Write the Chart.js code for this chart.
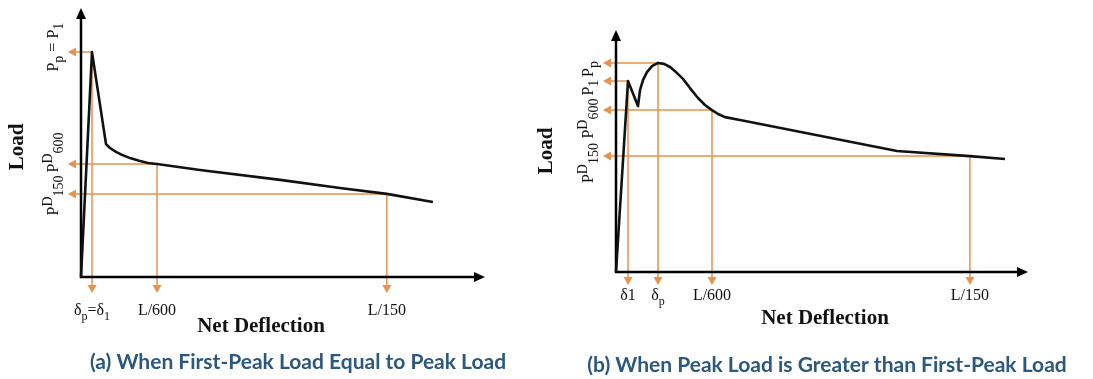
<!DOCTYPE html>
<html>
<head>
<meta charset="utf-8">
<script src="https://cdn.jsdelivr.net/npm/chart.js@4.4.1/dist/chart.umd.min.js"></script>
<style>
  html, body { margin: 0; padding: 0; background: #fff; }
  body { width: 1093px; height: 379px; position: relative; overflow: hidden; }
  .panel { position: absolute; top: 0; height: 379px; }
  #panelA { left: 0; width: 530px; }
  #panelB { left: 530px; width: 563px; }
</style>
</head>
<body>
<div class="panel" id="panelA"><canvas id="chartA"></canvas></div>
<div class="panel" id="panelB"><canvas id="chartB"></canvas></div>
<script>
// (a) first-peak load equal to peak load
const deflA = [0, 2.72, 6.19, 7.18, 8.66, 10.15, 12.13, 14.6, 16.6, 18.81, 29.46, 49.3, 64.1, 75.7, 87.1];
const loadA = [0, 83.6, 49.4, 47.96, 46.5, 45.4, 44.2, 43.1, 42.4, 42.0, 39.8, 36.1, 33.1, 30.9, 27.9];
const markDeflA = [2.72, 18.81, 75.7];
const markLoadA = [83.6, 42.0, 30.9];
const xLabelsA = ['δ_{p}=δ_{1}', 'L/600', 'L/150'];
const yLabelsA = ['P_{p} = P_{1}', 'P^{D}_{600}', 'P^{D}_{150}'];
const captionA = '(a) When First-Peak Load Equal to Peak Load';

// (b) peak load greater than first-peak load
const deflB = [0, 2.91, 5.34, 5.83, 6.55, 7.52, 8.74, 10.19, 11.65, 13.11, 14.56, 16.26, 17.96, 19.9, 21.6, 23.3, 24.76, 26.46, 30.1, 68.2, 85.9, 94.4];
const loadB = [0, 78.9, 68.6, 75.2, 79.3, 82.6, 85.1, 86.4, 86.0, 84.7, 82.6, 79.8, 76.0, 71.9, 69.0, 66.9, 65.3, 64.0, 62.8, 50.0, 47.9, 46.7];
const markDeflB = [2.91, 10.19, 23.3, 85.9];
const markLoadB = [78.9, 86.4, 66.9, 47.9];
const xLabelsB = ['δ1', 'δ_{p}', 'L/600', 'L/150'];
const yLabelsB = ['P_{1}', 'P_{p}', 'P^{D}_{600}', 'P^{D}_{150}'];
const captionB = '(b) When Peak Load is Greater than First-Peak Load';

const axisTitleX = 'Net Deflection';
const axisTitleY = 'Load';

const ORANGE = '#E8924E';
const SERIF = '"Liberation Serif", "Times New Roman", serif';

// split "P^{D}_{600}" into normal / superscript / subscript runs
function parseRich(str) {
  const parts = [];
  const re = /([_^])\{([^}]*)\}|([^_^]+)/g;
  let m;
  while ((m = re.exec(str))) {
    if (m[3]) parts.push({ t: m[3], shift: 0 });
    else parts.push({ t: m[2], shift: m[1] === '_' ? 1 : -1 });
  }
  return parts;
}

function richFonts(parts, size, small) {
  return parts.map(p => (p.shift ? Math.round(size * small) : size) + 'px ' + SERIF);
}

function measureRich(ctx, str, size, small) {
  const parts = parseRich(str);
  const fonts = richFonts(parts, size, small);
  return parts.reduce((sum, p, i) => {
    ctx.font = fonts[i];
    return sum + ctx.measureText(p.t).width;
  }, 0);
}

function drawRich(ctx, str, cx, cy, size, small) {
  const parts = parseRich(str);
  const fonts = richFonts(parts, size, small);
  let x = cx - measureRich(ctx, str, size, small) / 2;
  const base = cy + size * 0.33;
  ctx.textAlign = 'left';
  ctx.textBaseline = 'alphabetic';
  parts.forEach((p, i) => {
    ctx.font = fonts[i];
    const dy = p.shift > 0 ? size * 0.32 : p.shift < 0 ? -size * 0.42 : 0;
    ctx.fillText(p.t, x, base + dy);
    x += ctx.measureText(p.t).width;
  });
}

// push rotated labels apart along the y axis so they don't overlap
function spreadLabels(items, gap) {
  items.sort((p, q) => p.c - q.c);
  for (let pass = 0; pass < 20; pass++) {
    let moved = false;
    for (let i = 1; i < items.length; i++) {
      const a = items[i - 1], b = items[i];
      const need = a.len / 2 + b.len / 2 + gap - (b.c - a.c);
      if (need > 0.5) {
        a.c -= need / 2;
        b.c += need / 2;
        moved = true;
      }
    }
    if (!moved) break;
  }
  return items;
}

function arrowHead(ctx, x, y, dir, len, half) {
  ctx.beginPath();
  if (dir === 'left') {
    ctx.moveTo(x, y); ctx.lineTo(x + len, y - half); ctx.lineTo(x + len, y + half);
  } else if (dir === 'down') {
    ctx.moveTo(x, y); ctx.lineTo(x - half, y - len); ctx.lineTo(x + half, y - len);
  } else if (dir === 'up') {
    ctx.moveTo(x, y); ctx.lineTo(x - half, y + len); ctx.lineTo(x + half, y + len);
  } else {
    ctx.moveTo(x, y); ctx.lineTo(x - len, y - half); ctx.lineTo(x - len, y + half);
  }
  ctx.closePath();
  ctx.fill();
}

function diagramPlugin(cfg) {
  return {
    id: 'diagram',
    beforeDatasetsDraw(chart) {
      const { ctx, chartArea: a, scales: { x, y } } = chart;
      ctx.save();
      // orange guide lines from each marked point to both axes
      ctx.strokeStyle = ORANGE;
      ctx.fillStyle = ORANGE;
      ctx.lineWidth = 1.5;
      cfg.markX.forEach((mx, i) => {
        const px = x.getPixelForValue(mx);
        const py = y.getPixelForValue(cfg.markY[i]);
        ctx.beginPath();
        ctx.moveTo(px, py);
        ctx.lineTo(a.left - 6, py);
        ctx.moveTo(px, py);
        ctx.lineTo(px, a.bottom + cfg.dropLen - 6);
        ctx.stroke();
        arrowHead(ctx, a.left - 13, py, 'left', 8, 4.5);
        arrowHead(ctx, px, a.bottom + cfg.dropLen, 'down', 8, 4.5);
      });
      // axes with arrow heads
      ctx.strokeStyle = '#000';
      ctx.fillStyle = '#000';
      ctx.lineWidth = 2.5;
      ctx.beginPath();
      ctx.moveTo(a.left, a.top + 8);
      ctx.lineTo(a.left, a.bottom);
      ctx.lineTo(a.right - 8, a.bottom);
      ctx.stroke();
      arrowHead(ctx, a.left, a.top, 'up', 11, 5);
      arrowHead(ctx, a.right, a.bottom, 'right', 11, 5);
      ctx.restore();
    },
    afterDraw(chart) {
      const { ctx, chartArea: a, scales: { x, y } } = chart;
      ctx.save();
      ctx.fillStyle = '#111';
      cfg.xLabels.forEach((t, i) => {
        drawRich(ctx, t, x.getPixelForValue(cfg.markX[i]), a.bottom + cfg.xLabelGap, 16, 0.72);
      });
      const items = cfg.yLabels.map((t, i) => ({
        t,
        c: y.getPixelForValue(cfg.markY[i]) + cfg.yLabelShift,
        len: measureRich(ctx, t, 16, 0.85)
      }));
      spreadLabels(items, 3).forEach(it => {
        ctx.save();
        ctx.translate(a.left - 28, it.c);
        ctx.rotate(-Math.PI / 2);
        drawRich(ctx, it.t, 0, 0, 16, 0.85);
        ctx.restore();
      });
      ctx.font = 'bold 21px ' + SERIF;
      ctx.textAlign = 'center';
      ctx.textBaseline = 'middle';
      ctx.fillText(axisTitleX, cfg.xTitle[0], cfg.xTitle[1]);
      ctx.save();
      ctx.translate(cfg.yTitle[0], cfg.yTitle[1]);
      ctx.rotate(-Math.PI / 2);
      ctx.fillText(axisTitleY, 0, 0);
      ctx.restore();
      ctx.fillStyle = '#2B587E';
      ctx.font = 'bold 21px Lato, "Noto Sans", sans-serif';
      ctx.fillText(cfg.caption, cfg.captionPos[0], cfg.captionPos[1], cfg.captionWidth);
      ctx.restore();
    }
  };
}

function makeChart(id, defl, load, padding, cfg) {
  return new Chart(document.getElementById(id), {
    type: 'scatter',
    data: {
      datasets: [{
        data: defl.map((d, i) => ({ x: d, y: load[i] })),
        showLine: true,
        borderColor: '#111',
        borderWidth: 2.6,
        borderJoinStyle: 'round',
        pointRadius: 0,
        tension: 0,
        clip: false
      }]
    },
    options: {
      responsive: true,
      maintainAspectRatio: false,
      animation: false,
      layout: { padding },
      scales: {
        x: { type: 'linear', min: 0, max: 100, display: false },
        y: { type: 'linear', min: 0, max: 100, display: false }
      },
      plugins: { legend: { display: false }, tooltip: { enabled: false } }
    },
    plugins: [diagramPlugin(cfg)]
  });
}

const chartA = makeChart('chartA', deflA, loadA,
  { left: 81, top: 8, right: 45, bottom: 102 },
  {
    markX: markDeflA, markY: markLoadA, xLabels: xLabelsA, yLabels: yLabelsA,
    dropLen: 16, xLabelGap: 33, yLabelShift: -5,
    xTitle: [261, 327], yTitle: [18, 147],
    caption: captionA, captionPos: [298, 362], captionWidth: 443
  });

const chartB = makeChart('chartB', deflB, loadB,
  { left: 86, top: 30, right: 65, bottom: 107 },
  {
    markX: markDeflB, markY: markLoadB, xLabels: xLabelsB, yLabels: yLabelsB,
    dropLen: 13, xLabelGap: 23, yLabelShift: 7,
    xTitle: [295, 319], yTitle: [17, 151],
    caption: captionB, captionPos: [297, 365], captionWidth: 500
  });
</script>
</body>
</html>
